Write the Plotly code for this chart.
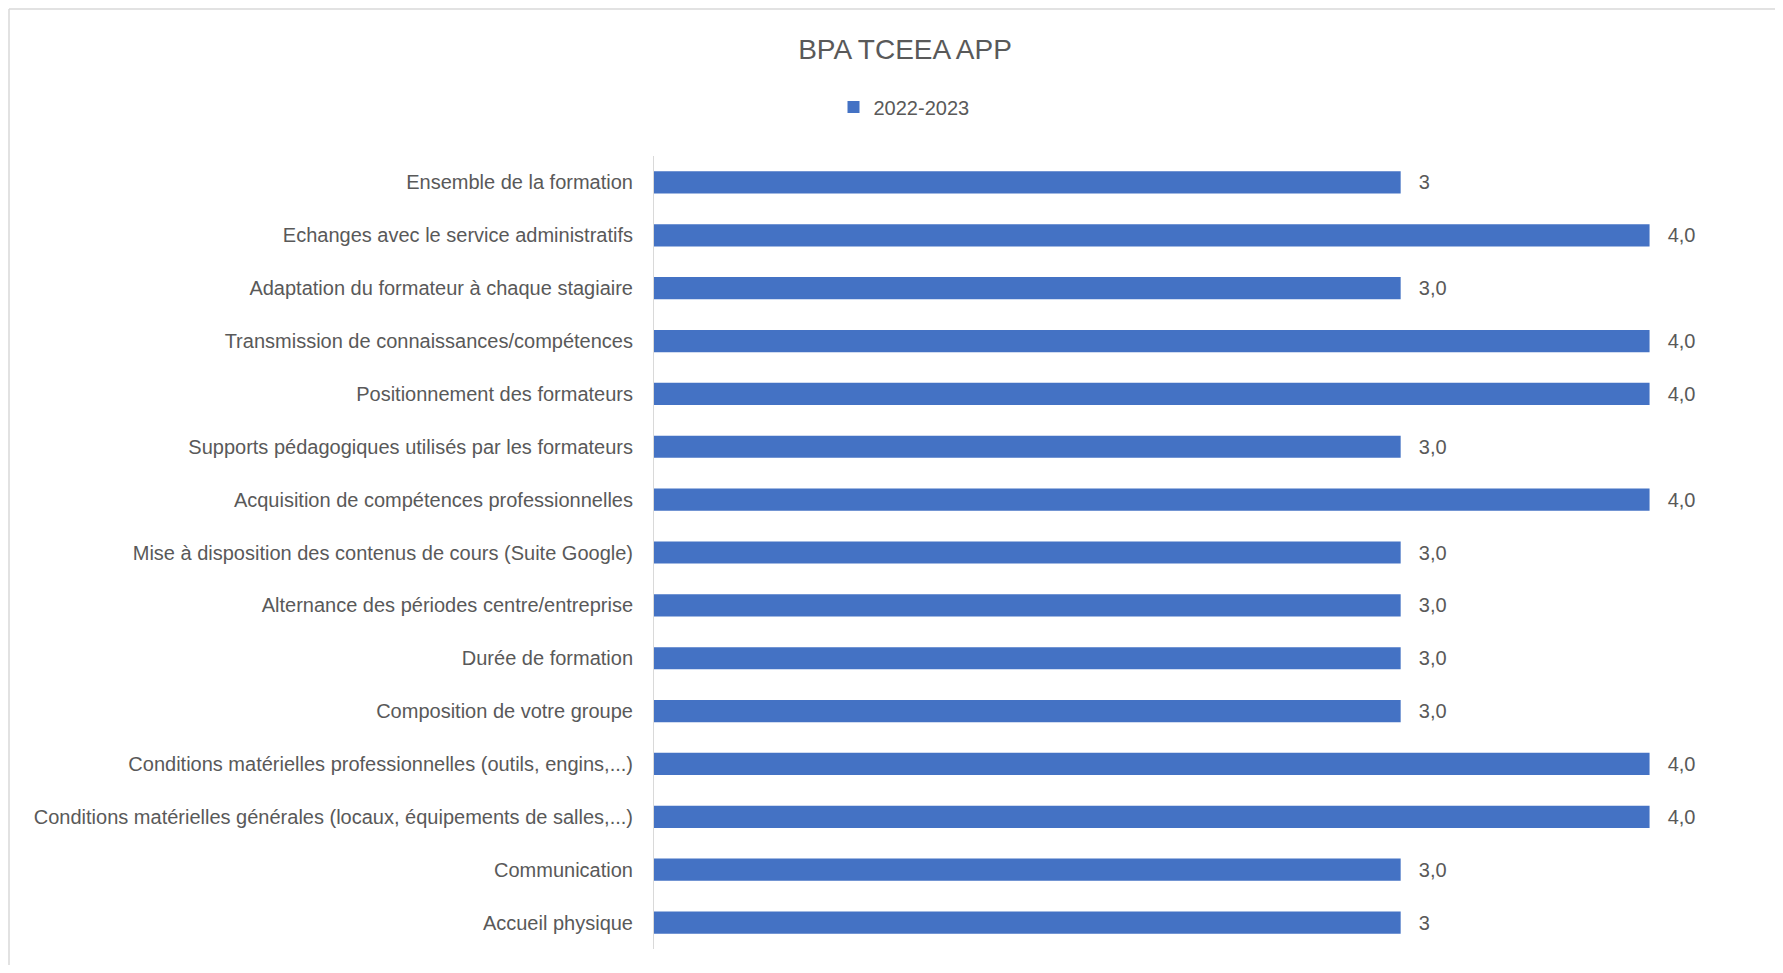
import plotly.graph_objects as go

categories = [
    "Ensemble de la formation",
    "Echanges avec le service administratifs",
    "Adaptation du formateur à chaque stagiaire",
    "Transmission de connaissances/compétences",
    "Positionnement des formateurs",
    "Supports pédagogiques utilisés par les formateurs",
    "Acquisition de compétences professionnelles",
    "Mise à disposition des contenus de cours (Suite Google)",
    "Alternance des périodes centre/entreprise",
    "Durée de formation",
    "Composition de votre groupe",
    "Conditions matérielles professionnelles (outils, engins,...)",
    "Conditions matérielles générales (locaux, équipements de salles,...)",
    "Communication",
    "Accueil physique",
]
values_2022_2023 = [3, 4, 3, 4, 4, 3, 4, 3, 3, 3, 3, 4, 4, 3, 3]
value_labels = ["3", "4,0", "3,0", "4,0", "4,0", "3,0", "4,0", "3,0", "3,0", "3,0",
                "3,0", "4,0", "4,0", "3,0", "3"]
series_name = "2022-2023"
title_text = "BPA TCEEA APP"

# page body has an 8px margin; figure sized to fit inside window
OFF = 8
W, H = 1783 - 2 * OFF, 973 - 2 * OFF
ml, mt = 654 - OFF, 156 - OFF
plot_right, plot_bottom = 1774 - OFF, 949 - OFF
mr, mb = W - plot_right, H - plot_bottom
pw, ph = W - ml - mr, H - mt - mb

text_color = "#595959"
font_family = "Liberation Sans, Arial, sans-serif"

fig = go.Figure()
fig.add_trace(go.Bar(
    x=values_2022_2023,
    y=categories,
    orientation="h",
    name=series_name,
    marker=dict(color="#4472C4", line=dict(width=0)),
    text=["  \u2009" + t for t in value_labels],
    textposition="outside",
    textfont=dict(size=20, color=text_color, family=font_family),
    cliponaxis=False,
    showlegend=True,
))

def px_x(px):
    return (px - ml) / pw

def px_y(py):
    return 1 - (py - mt) / ph

fig.update_layout(
    width=W, height=H,
    margin=dict(l=ml, r=mr, t=mt, b=mb, autoexpand=False),
    paper_bgcolor="white",
    plot_bgcolor="white",
    font=dict(family=font_family, color=text_color, size=20),
    bargap=0.58,
    title=dict(text=title_text, x=(905 - OFF) / W, xanchor="center",
               y=1 - (49 - OFF) / H, yanchor="middle", yref="container", xref="container",
               font=dict(size=28, color=text_color, family=font_family)),
    legend=dict(orientation="h", xref="container", yref="container",
                x=(904 - OFF) / W, xanchor="center", y=1 - (107 - OFF) / H, yanchor="middle",
                font=dict(size=20, color=text_color, family=font_family),
                itemwidth=30),
    xaxis=dict(range=[0, 4.5], visible=False, showgrid=False, zeroline=False),
    yaxis=dict(autorange="reversed", showline=True, linecolor="#d9d9d9", linewidth=1,
               ticks="", showgrid=False, ticklabelstandoff=16,
               tickfont=dict(size=20, color=text_color, family=font_family)),
    shapes=[
        dict(type="line", xref="paper", yref="paper",
             x0=px_x(1), x1=px_x(W + 5), y0=px_y(1), y1=px_y(1),
             line=dict(color="#d9d9d9", width=1.5)),
        dict(type="line", xref="paper", yref="paper",
             x0=px_x(1), x1=px_x(1), y0=px_y(1), y1=px_y(H + 5),
             line=dict(color="#d9d9d9", width=1.5)),
    ],
)

fig.write_html("out.html")
